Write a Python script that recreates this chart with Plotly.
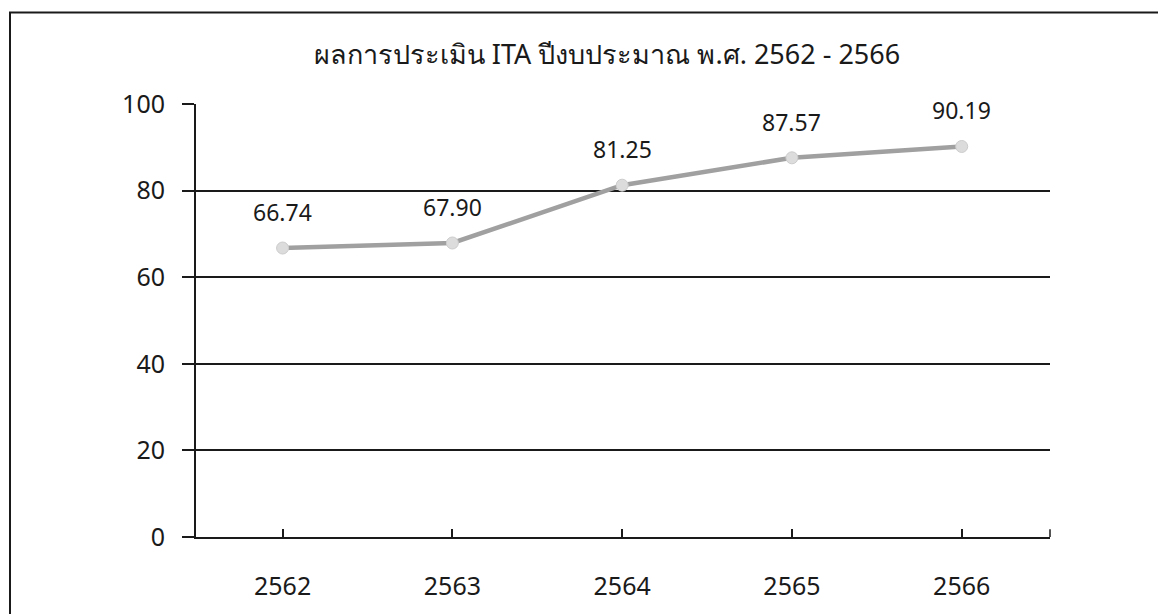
import plotly.graph_objects as go

years = [2562, 2563, 2564, 2565, 2566]
scores = [66.74, 67.90, 81.25, 87.57, 90.19]
score_labels = ["66.74", "67.90", "81.25", "87.57", "90.19"]
y_ticks = [0, 20, 40, 60, 80, 100]
title_text = "ผลการประเมิน ITA ปีงบประมาณ พ.ศ. 2562 - 2566"

FONT = "Noto Sans, Open Sans, DejaVu Sans, sans-serif"
OFF = 8                    # page body margin
W, H = 1166 - OFF, 614 - OFF
PL, PR, PT, PB = 196 - OFF, 1050 - OFF, 104 - OFF, 549 - OFF
PW, PH = PR - PL, PB - PT
INK = "#1a1a1a"

fig = go.Figure()
fig.add_trace(go.Scatter(
    x=years, y=scores, mode="lines+markers",
    line=dict(color="#a0a0a0", width=4.5),
    marker=dict(color="#dcdcdc", size=12, line=dict(color="#cccccc", width=1)),
    showlegend=False, hoverinfo="skip",
))

for xv, yv, t in zip(years, scores, score_labels):
    fig.add_annotation(x=xv, y=yv, text=t, showarrow=False, yshift=36,
                       yanchor="middle", xanchor="center",
                       font=dict(family=FONT, size=23, color=INK))

fig.update_layout(
    width=W, height=H,
    margin=dict(l=PL, r=W - PR, t=PT, b=H - PB),
    paper_bgcolor="white", plot_bgcolor="white",
    font=dict(family=FONT, size=24, color=INK),
    title=dict(text=title_text, x=(607 - OFF) / W, xanchor="center", xref="container",
               y=1 - (55 - OFF) / H, yanchor="middle", yref="container",
               font=dict(family=FONT, size=27, color=INK)),
)

fig.update_xaxes(
    range=[2561.49, 2566.52], tickvals=years, ticktext=[str(v) for v in years],
    ticks="inside", ticklen=8, tickwidth=1.5, tickcolor=INK,
    showgrid=False, zeroline=False, showline=True, linecolor=INK, linewidth=2,
    ticklabelstandoff=26, tickfont=dict(size=25, color=INK),
)
fig.update_yaxes(
    range=[0, 100], tickvals=y_ticks, ticks="outside", ticklen=12, tickwidth=2,
    tickcolor=INK, showgrid=True, gridcolor=INK, gridwidth=2,
    zeroline=False, showline=True, linecolor=INK, linewidth=2,
    ticklabelstandoff=12, tickfont=dict(size=25, color=INK),
)

# end tick at right edge of category axis
fig.add_shape(type="line", xref="x domain", yref="y domain", x0=1, x1=1, y0=0, y1=0.018,
              line=dict(color=INK, width=1.5))
# outer frame
fig.add_shape(type="rect", xref="paper", yref="paper",
              x0=(10 - OFF - PL) / PW, x1=(W - 1 - PL) / PW,
              y0=(PB - 640) / PH, y1=(PB - (10 - OFF)) / PH,
              line=dict(color=INK, width=2), fillcolor="rgba(0,0,0,0)", layer="below")

fig.write_html("out.html")
